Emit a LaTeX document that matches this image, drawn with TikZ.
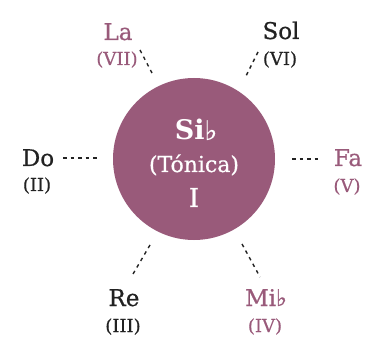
\documentclass[tikz,border=0pt]{standalone}
\usepackage{fontspec}
\setmainfont{DejaVu Serif}[FakeBold=0.6]
\newfontfamily\boldf{DejaVu Serif Bold}
\newfontfamily\symf{DejaVu Sans}[FakeBold=0.6]
\definecolor{plum}{HTML}{995A7A}
\definecolor{ink}{HTML}{222222}
\newcommand{\flt}{{\symf\char"266D}}
\begin{document}
\begin{tikzpicture}[x=1pt,y=-1pt,
  note/.style={font=\fontsize{23}{26}\selectfont,inner sep=0pt,anchor=base},
  deg/.style={font=\fontsize{18}{21}\selectfont,inner sep=0pt,anchor=base},
  link/.style={draw=ink,line width=1.4pt,dash pattern=on 3.5pt off 4pt}]
\useasboundingbox (0,0) rectangle (372,339);
\node[circle,fill=plum,minimum size=162pt,inner sep=0pt] (c) at (194,159) {};
\node[note,white,font=\fontsize{27}{30}\boldf] (si) at (196,140) {Si\flt};
\node[note,white,font=\fontsize{22}{25}\selectfont] (ton) at (194,172) {(Tónica)};
\node[note,white,font=\fontsize{26}{29}\selectfont] (one) at (194,207) {I};
% left / right
\node[note,ink] (do) at (38,166) {Do};
\node[deg,ink] (doii) at (37,191) {(II)};
\node[note,plum] (fa) at (348,166) {Fa};
\node[deg,plum] (fav) at (347,192) {(V)};
% top
\node[note,plum] (la) at (118,40) {La};
\node[deg,plum] (lavii) at (117,65) {(VII)};
\node[note,ink] (sol) at (281,39) {Sol};
\node[deg,ink] (solvi) at (280,65) {(VI)};
% bottom
\node[note,ink] (re) at (124,306) {Re};
\node[deg,ink] (reiii) at (123,332) {(III)};
\node[note,plum] (mi) at (266,306) {Mi\flt};
\node[deg,plum] (miiv) at (265,332) {(IV)};
% connectors
\coordinate (a1) at (63,158); \coordinate (a2) at (99,158);
\coordinate (b1) at (292,159); \coordinate (b2) at (321,159);
\coordinate (c1) at (140,50); \coordinate (c2) at (152,73);
\coordinate (d1) at (258,52); \coordinate (d2) at (246,76);
\coordinate (e1) at (150,245); \coordinate (e2) at (133,274);
\coordinate (f1) at (242,244); \coordinate (f2) at (260,277);
\draw[link] (a1) -- (a2);
\draw[link] (b1) -- (b2);
\draw[link] (c1) -- (c2);
\draw[link] (d1) -- (d2);
\draw[link] (e1) -- (e2);
\draw[link] (f1) -- (f2);
\end{tikzpicture}
\end{document}
